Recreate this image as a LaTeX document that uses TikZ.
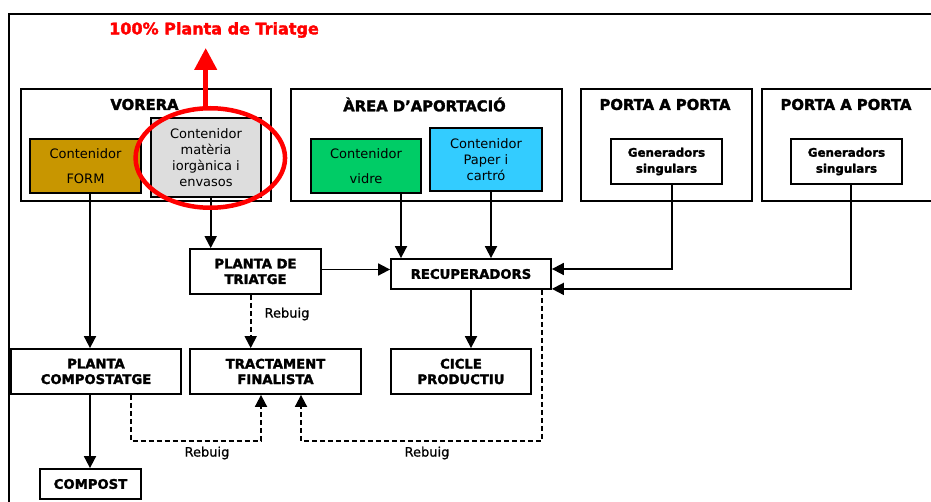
\documentclass[tikz,border=0pt]{standalone}
\usepackage{fontspec}
\setmainfont{DejaVu Sans}[BoldFeatures={FakeBold=2}]
\newfontfamily\notefont{DejaVu Sans}[FakeBold=0.8]
\usepackage{xcolor}
\usepackage{tikz}
\usetikzlibrary{shapes.geometric,arrows.meta}
\definecolor{formgold}{RGB}{200,150,0}
\definecolor{vidregreen}{RGB}{0,204,102}
\definecolor{papercyan}{RGB}{51,204,255}
\definecolor{organicgray}{RGB}{221,221,221}
\definecolor{markred}{RGB}{255,0,0}

\begin{document}
\begin{tikzpicture}[x=1pt, y=-1pt,
  zone/.style={draw, line width=1.5, inner sep=0},
  bin/.style={draw, line width=2, inner sep=0, align=center, font=\fontsize{13}{16}\selectfont},
  gen/.style={draw, line width=1.8, inner sep=0, align=center, minimum width=111, minimum height=45, font=\fontsize{11.8}{16}\selectfont\bfseries},
  plant/.style={draw, line width=1.8, inner sep=0, align=center, font=\fontsize{13.2}{15.5}\selectfont\bfseries},
  head/.style={font=\fontsize{14.8}{17}\selectfont\bfseries},
  flow/.style={line width=1.8, -{Triangle[width=12pt,length=12pt]}},
  waste/.style={flow, dash pattern=on 5pt off 3pt},
  note/.style={font=\fontsize{13}{16}\notefont}]
          \useasboundingbox (0,0) rectangle (931,502);
          \draw[line width=2.2] (9,510) -- (9,14) -- (940,14);

          \node[zone, minimum width=250, minimum height=112] (vorera) at (146,145) {};
          \node[zone, minimum width=271, minimum height=112] (area) at (426.5,145) {};
          \node[zone, minimum width=171, minimum height=112] (porta1) at (666.5,145) {};
          \node[zone, minimum width=172, minimum height=112] (porta2) at (848,145) {};
          \node[head] (voreratitle) at (144.5,104.5) {VORERA};
          \node[head] (areatitle) at (424.5,104.5) {ÀREA D'APORTACIÓ};
          \node[head] (porta1title) at (665,104.5) {PORTA A PORTA};
          \node[head] (porta2title) at (846,104.5) {PORTA A PORTA};

          \node[bin, fill=formgold, minimum width=111, minimum height=54] (form) at (85.5,166) {Contenidor\\[9pt]FORM};
          \node[bin, fill=organicgray, minimum width=110, minimum height=79] (organic) at (206,157.5) {Contenidor\\matèria\\iorgànica i\\envasos};
          \node[bin, fill=vidregreen, minimum width=110, minimum height=54] (vidre) at (366,166) {Contenidor\\[9pt]vidre};
          \node[bin, fill=papercyan, minimum width=112, minimum height=63] (paper) at (486,159.5) {Contenidor\\Paper i\\cartró};
          \node[gen] (gen1) at (666.5,161.5) {Generadors\\singulars};
          \node[gen] (gen2) at (846.5,161.5) {Generadors\\singulars};

          \node[plant, minimum width=131, minimum height=45] (triatge) at (255.5,271.5) {PLANTA DE\\TRIATGE};
          \node[plant, minimum width=160, minimum height=30] (recup) at (471,274) {RECUPERADORS};
          \node[plant, minimum width=170, minimum height=45] (compostatge) at (96,371.5) {PLANTA\\COMPOSTATGE};
          \node[plant, minimum width=171, minimum height=45] (finalista) at (275.5,371.5) {TRACTAMENT\\FINALISTA};
          \node[plant, minimum width=140, minimum height=45] (cicle) at (461,371.5) {CICLE\\PRODUCTIU};
          \node[plant, minimum width=101, minimum height=30] (compost) at (90.5,484) {COMPOST};

          \draw[flow] ([xshift=4.5]form.south) -- ([xshift=4.5]form.south |- compostatge.north);
          \draw[flow] ([xshift=4.7]organic.south) -- ([xshift=4.7]organic.south |- triatge.north);
          \draw[flow] ([xshift=35]vidre.south) -- ([xshift=35]vidre.south |- recup.north);
          \draw[flow] ([xshift=5]paper.south) -- ([xshift=5]paper.south |- recup.north);
          \draw[flow] ([xshift=5.2]gen1.south) |- ([yshift=5]recup.east);
          \draw[flow] ([xshift=4.5]gen2.south) |- ([yshift=1]recup.south east);
          \draw[flow] ([yshift=2]triatge.east) -- ([yshift=2]triatge.east -| recup.west);
          \draw[waste] ([xshift=-4.8]triatge.south) -- ([xshift=-4.8]triatge.south |- finalista.north);
          \draw[flow] (recup.south) -- (recup.south |- cicle.north);
          \draw[flow] ([xshift=-6]compostatge.south) -- ([xshift=-6]compostatge.south |- compost.north);
          \draw[waste] ([xshift=34.7]compostatge.south) -- ++(0,46) -| ([xshift=-14.5]finalista.south);
          \draw[waste] ([xshift=70.7]recup.south) -- ++(0,151) -| ([xshift=25.5]finalista.south);
          \node[note] (rebuig1) at (287,314) {Rebuig};
          \node[note] (rebuig2) at (207,453) {Rebuig};
          \node[note] (rebuig3) at (427,453) {Rebuig};

          \node[draw=markred, line width=4.5, ellipse, minimum width=149.5, minimum height=99.5, inner sep=0] (hl) at (210.3,158) {};
          \node[text=markred, font=\fontsize{16}{18}\selectfont\bfseries] (target) at (214,30) {100\% Planta de Triatge};
          \coordinate (tip) at (205.7,48);
          \draw[markred, line width=4.5, -{Triangle[width=22pt,length=22pt]}] ([xshift=-4.6]hl.north) -- (tip);
        \end{tikzpicture}
\end{document}
